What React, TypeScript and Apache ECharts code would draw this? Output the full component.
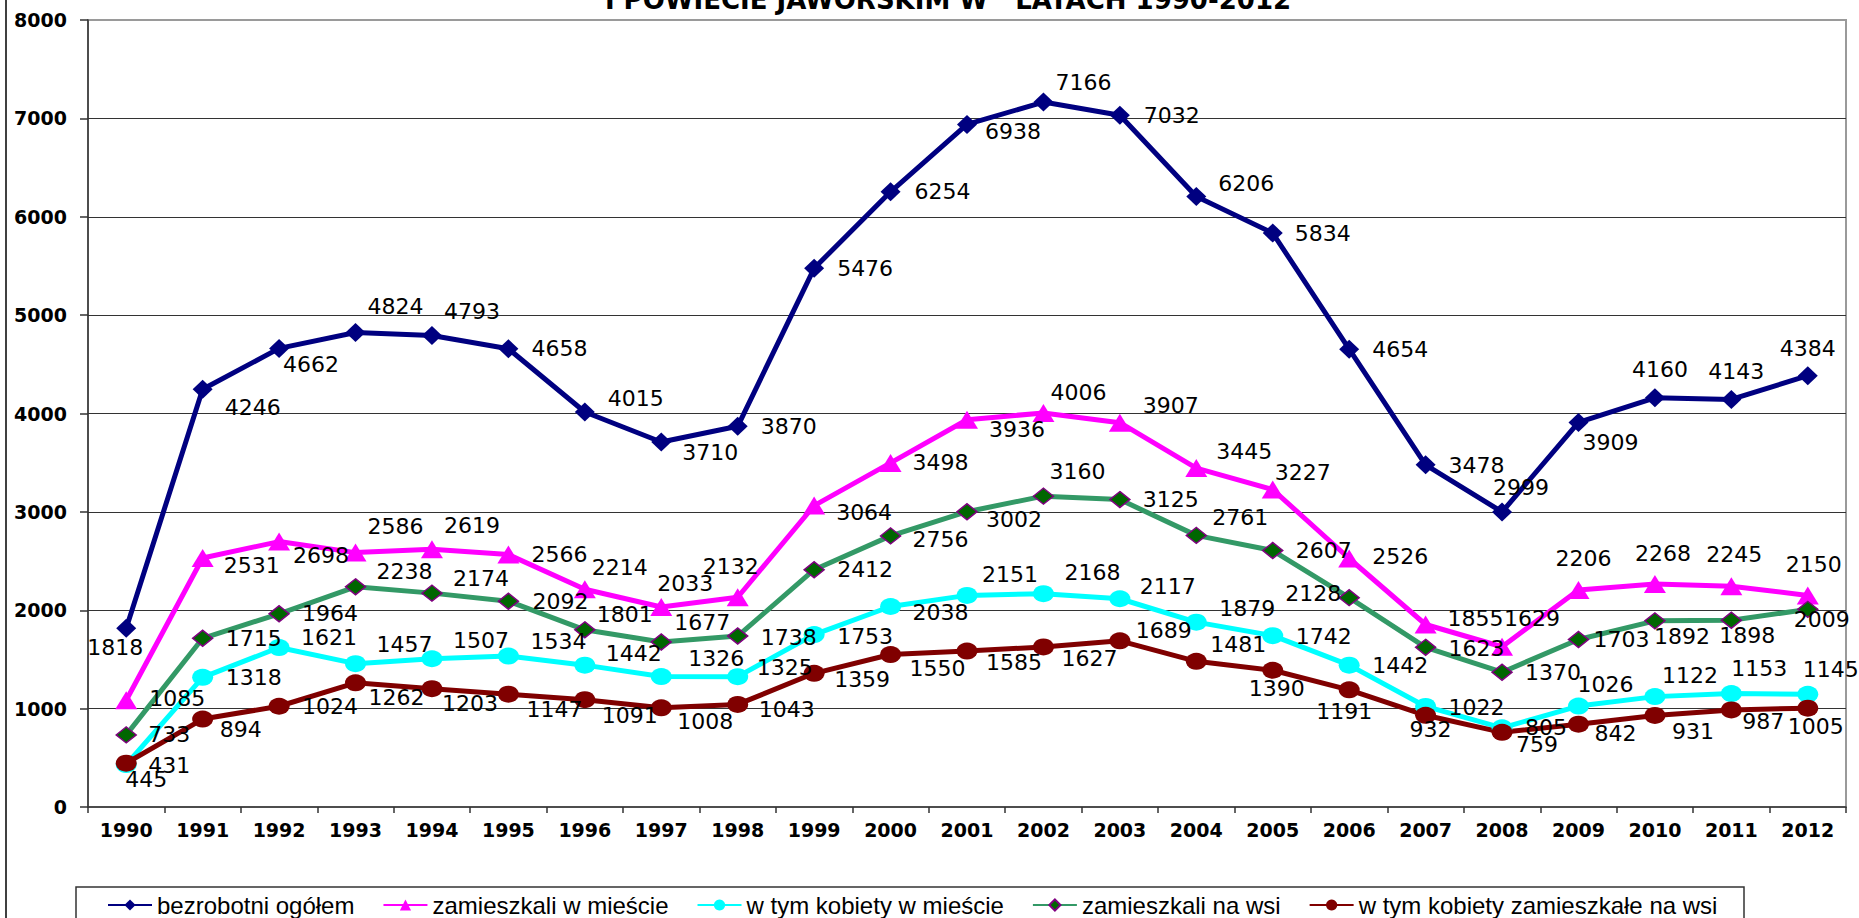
import React, { useEffect, useRef } from "react";
import * as echarts from "echarts";

const years = ["1990","1991","1992","1993","1994","1995","1996","1997","1998","1999","2000","2001","2002","2003","2004","2005","2006","2007","2008","2009","2010","2011","2012"];

const ogolem = [1818,4246,4662,4824,4793,4658,4015,3710,3870,5476,6254,6938,7166,7032,6206,5834,4654,3478,2999,3909,4160,4143,4384];
const miasto = [1085,2531,2698,2586,2619,2566,2214,2033,2132,3064,3498,3936,4006,3907,3445,3227,2526,1855,1629,2206,2268,2245,2150];
const kobietyMiasto = [431,1318,1621,1457,1507,1534,1442,1326,1325,1753,2038,2151,2168,2117,1879,1742,1442,1022,805,1026,1122,1153,1145];
const wies = [733,1715,1964,2238,2174,2092,1801,1677,1738,2412,2756,3002,3160,3125,2761,2607,2128,1623,1370,1703,1892,1898,2009];
const kobietyWies = [445,894,1024,1262,1203,1147,1091,1008,1043,1359,1550,1585,1627,1689,1481,1390,1191,932,759,842,931,987,1005];

const seriesNames = ["bezrobotni ogółem","zamieszkali w mieście","w tym kobiety w mieście","zamieszkali na wsi","w tym kobiety zamieszkałe na wsi"];
const yTicks = { min: 0, max: 8000, interval: 1000 };
const titleText = "I POWIECIE JAWORSKIM W   LATACH 1990-2012";

// label offsets (px) from the point centre to the label centre
const ogolemLbl = [[-11,19],[50,18],[32,16],[40,-26],[40,-24],[51,0],[51,-14],[49,10],[51,0],[51,0],[52,0],[46,7],[40,-20],[52,0],[50,-13],[50,0],[51,0],[51,1],[19,-24],[32,20],[5,-28],[5,-28],[0,-27]];
const miastoLbl = [[51,-2],[49,7],[42,14],[40,-26],[40,-24],[51,0],[35,-22],[24,-24],[-7,-31],[50,7],[50,0],[50,10],[35,-20],[51,-17],[48,-17],[30,-17],[51,-2],[50,-6],[30,-28],[5,-31],[8,-30],[3,-32],[6,-31]];
const kobMiastoLbl = [[43,1],[51,0],[50,-10],[49,-19],[49,-18],[50,-15],[49,-12],[55,-18],[47,-9],[51,2],[50,6],[43,-21],[49,-21],[48,-12],[51,-14],[51,1],[51,0],[51,1],[44,0],[27,-22],[35,-21],[28,-25],[23,-25]];
const wiesLbl = [[43,0],[51,0],[51,0],[49,-15],[49,-15],[52,0],[40,-15],[41,-20],[51,1],[51,0],[50,4],[47,8],[34,-25],[51,0],[44,-18],[51,0],[-36,-4],[51,1],[51,0],[43,0],[27,16],[16,15],[14,10]];
const kobWiesLbl = [[20,16],[38,10],[51,0],[41,15],[38,15],[46,15],[45,16],[44,14],[49,5],[48,6],[47,14],[47,11],[46,12],[44,-10],[42,-17],[4,18],[-5,22],[5,14],[35,12],[37,9],[38,16],[32,12],[8,18]];

function makeSeries(name: string, values: number[], offsets: number[][], color: string, symbol: string, symbolSize: any, itemStyle: any) {
  return {
    name,
    type: "line",
    data: values.map((v, i) => ({ value: v, label: { offset: offsets[i] } })),
    symbol,
    symbolSize,
    showAllSymbol: true,
    lineStyle: { color, width: 5 },
    itemStyle: { color, ...itemStyle },
    label: {
      show: true,
      position: "inside",
      align: "center",
      verticalAlign: "middle",
      color: "#000",
      fontFamily: "DejaVu Sans",
      fontSize: 22,
    },
    emphasis: { disabled: true },
  };
}

export default function App() {
  const ref = useRef<HTMLDivElement>(null);
  useEffect(() => {
    const chart = echarts.init(ref.current as HTMLDivElement, null, { renderer: "svg" });
    const axisFont = { color: "#000", fontFamily: "DejaVu Sans", fontWeight: "bold", fontSize: 19 };
    chart.setOption({
      animation: false,
      backgroundColor: "#fff",
      grid: {
        left: 88, right: 13, top: 20, bottom: 111,
        show: true, borderColor: "#9a9a9a", borderWidth: 2,
        containLabel: false, outerBoundsMode: "none",
      },
      graphic: [
        { type: "line", shape: { x1: 6, y1: 0, x2: 6, y2: 918 }, style: { stroke: "#000", lineWidth: 1.5 } },
        { type: "rect", shape: { x: 76, y: 887, width: 1668, height: 60 }, style: { fill: "none", stroke: "#333", lineWidth: 1.5 } },
        {
          type: "text", x: 948, y: 0,
          style: { text: titleText, font: 'bold 26px "DejaVu Sans"', fill: "#000", align: "center", verticalAlign: "middle" },
        },
      ],
      legend: {
        left: 107, top: 893, padding: 0,
        itemWidth: 44, itemHeight: 14, itemGap: 28,
        textStyle: { fontFamily: "Liberation Sans", fontSize: 24, color: "#000" },
        data: seriesNames,
      },
      xAxis: {
        type: "category",
        data: years,
        boundaryGap: true,
        axisLine: { lineStyle: { color: "#333", width: 1.5 } },
        axisTick: { show: true, interval: 0, length: 6, lineStyle: { color: "#333", width: 1.5 } },
        axisLabel: { interval: 0, margin: 13, ...axisFont },
      },
      yAxis: {
        type: "value",
        min: yTicks.min, max: yTicks.max, interval: yTicks.interval,
        axisLine: { show: true, lineStyle: { color: "#333", width: 1.5 } },
        axisTick: { show: true, length: 8, lineStyle: { color: "#333", width: 1.5 } },
        axisLabel: { margin: 21, formatter: (v: number) => String(v), ...axisFont },
        splitLine: { show: true, showMaxLine: false, showMinLine: false, lineStyle: { color: "#333", width: 1 } },
      },
      series: [
        makeSeries(seriesNames[0], ogolem, ogolemLbl, "#000080", "diamond", [20, 19], {}),
        makeSeries(seriesNames[1], miasto, miastoLbl, "#FF00FF", "triangle", [22, 18], {}),
        makeSeries(seriesNames[2], kobietyMiasto, kobMiastoLbl, "#00FFFF", "circle", [21, 17], {}),
        makeSeries(seriesNames[3], wies, wiesLbl, "#339966", "diamond", [20, 16], { color: "#006600", borderColor: "#800080", borderWidth: 1.5 }),
        makeSeries(seriesNames[4], kobietyWies, kobWiesLbl, "#800000", "circle", [21, 17], {}),
      ],
    });
    return () => chart.dispose();
  }, []);
  return <div ref={ref} style={{ position: "fixed", left: 0, top: 0, width: 1859, height: 918, background: "#fff" }} />;
}
